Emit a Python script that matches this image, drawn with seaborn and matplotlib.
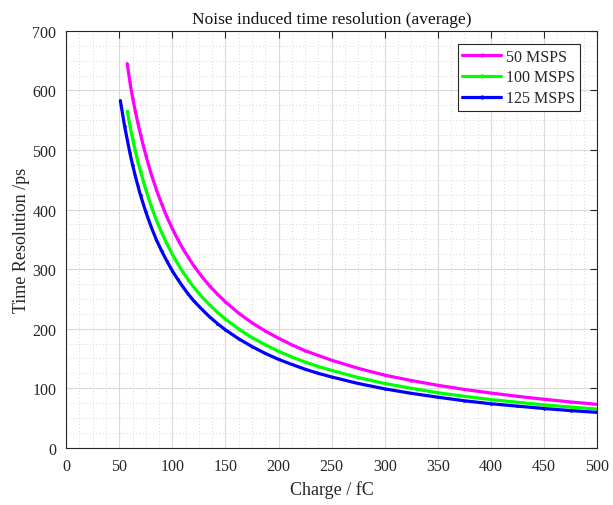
import matplotlib
matplotlib.use("Agg")
import matplotlib.pyplot as plt
import seaborn as sns
import pandas as pd
from matplotlib.ticker import MultipleLocator
from matplotlib.lines import Line2D

# ---- data ----
x_50 = [57.5, 60, 62.5, 65, 67.5, 70, 75, 80, 85, 90, 95, 100, 105, 110, 115, 120, 127.5, 135, 142.5, 150,
        162.5, 175, 187.5, 200, 212.5, 225, 237.5, 250, 275, 300, 325, 350, 375, 400, 425, 450, 475, 500]
y_50 = [645, 614, 588, 566, 545, 526, 491, 460, 433, 409, 387, 368, 350, 334, 320, 306, 288, 272, 258, 245,
        226, 210, 196, 184, 173, 163, 155, 147, 133.5, 122, 113, 105, 98, 92, 86.5, 81.5, 77, 73]

x_100 = [57.5, 60, 62.5, 65, 67.5, 70, 75, 80, 85, 90, 95, 100, 105, 110, 115, 120, 127.5, 135, 142.5, 150,
         162.5, 175, 187.5, 200, 212.5, 225, 237.5, 250, 275, 300, 325, 350, 375, 400, 425, 450, 475, 500]
y_100 = [565, 541, 519, 499, 480, 464, 433, 406, 382, 361, 342, 325, 309, 295, 282, 270, 254, 240, 227.5, 216,
         199.5, 185, 173, 162, 152.5, 144, 136.5, 130, 118, 108, 100, 92.5, 86.5, 81, 76.5, 72, 68.5, 65]

x_125 = [51, 55, 60, 62.5, 65, 67.5, 70, 75, 80, 85, 90, 95, 100, 105, 110, 115, 120, 127.5, 135, 142.5, 150,
         162.5, 175, 187.5, 200, 212.5, 225, 237.5, 250, 275, 300, 325, 350, 375, 400, 425, 450, 475, 500]
y_125 = [583, 540, 495, 475, 457, 440, 424, 396, 371, 349, 330, 313, 297, 283, 270, 258, 247, 233, 220, 208.5, 198,
         183, 170, 158.5, 148.5, 140, 132, 125, 119, 108, 99, 91.5, 85, 79, 74, 70, 66, 62.5, 59.5]

series = ["50 MSPS", "100 MSPS", "125 MSPS"]
colors = ["#FF00FF", "#00FF00", "#0000FF"]

title = "Noise induced time resolution (average)"
xlabel = "Charge / fC"
ylabel = "Time Resolution /ps"

df = pd.concat([
    pd.DataFrame({"x": x_50, "y": y_50, "s": series[0]}),
    pd.DataFrame({"x": x_100, "y": y_100, "s": series[1]}),
    pd.DataFrame({"x": x_125, "y": y_125, "s": series[2]}),
], ignore_index=True)

sns.set_style("white")
plt.rcParams["font.family"] = ["Liberation Serif", "DejaVu Serif"]

fig = plt.figure(figsize=(6.13, 5.06), dpi=100)
ax = fig.add_axes([0.108, 0.113, 0.866, 0.824])

sns.lineplot(data=df, x="x", y="y", hue="s", hue_order=series,
             palette=dict(zip(series, colors)), sort=False, estimator=None,
             linewidth=2.3, marker=".", markersize=4, markeredgewidth=0,
             ax=ax, legend=False)

ax.set_xlim(0, 500)
ax.set_ylim(0, 700)
ax.xaxis.set_major_locator(MultipleLocator(50))
ax.yaxis.set_major_locator(MultipleLocator(100))
ax.xaxis.set_minor_locator(MultipleLocator(12.5))
ax.yaxis.set_minor_locator(MultipleLocator(25))

ax.grid(True, which="major", color="#d9d9d9", linewidth=0.8, linestyle="-")
ax.grid(True, which="minor", color="#c8c8c8", linewidth=0.6, linestyle=(0, (1, 3)))
ax.set_axisbelow(True)

for sp in ax.spines.values():
    sp.set_visible(True)
    sp.set_color("#262626")
    sp.set_linewidth(0.8)

ax.tick_params(which="major", direction="in", length=5, width=0.8,
               top=True, right=True, labelsize=11.5, colors="#262626",
               labelcolor="#262626", pad=7)
ax.tick_params(which="minor", length=0, top=True, right=True)

ax.set_title(title, fontsize=12.5, color="#111111", pad=6)
ax.set_xlabel(xlabel, fontsize=13, color="#262626", labelpad=5)
ax.set_ylabel(ylabel, fontsize=13, color="#262626", labelpad=2)

handles = [Line2D([0], [0], color=c, lw=2.3, marker=".", markersize=4) for c in colors]
leg = ax.legend(handles, series, loc="upper right", bbox_to_anchor=(0.968, 0.969),
                fontsize=11.5, frameon=True, fancybox=False, framealpha=1,
                edgecolor="#262626", handlelength=2.4, borderpad=0.3,
                labelspacing=0.3, handletextpad=0.35, borderaxespad=0)
leg.get_frame().set_linewidth(0.8)

fig.savefig("out.png", dpi=100)
